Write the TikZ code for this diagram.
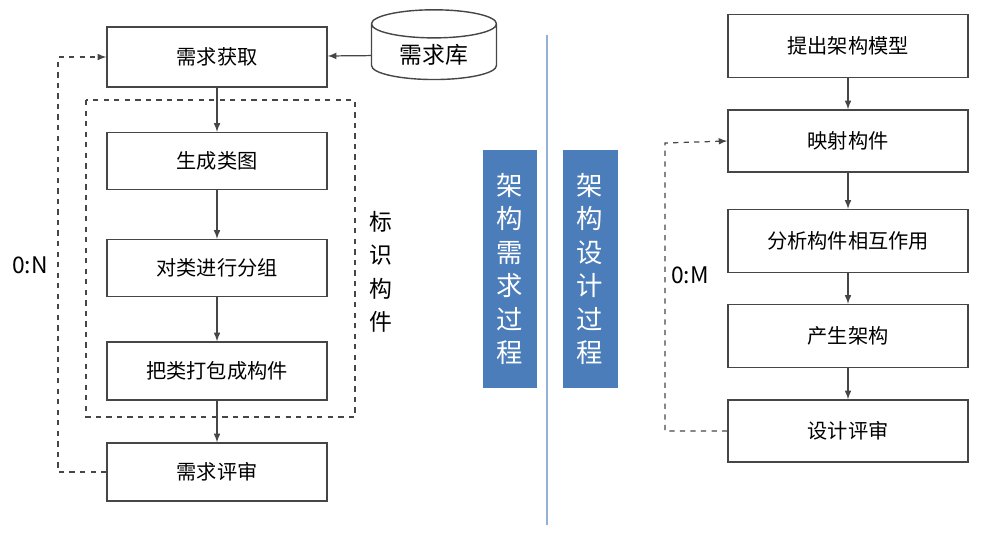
\documentclass[tikz,border=0pt]{standalone}
\usepackage{fontspec}
\setmainfont{Noto Sans CJK SC}
\usetikzlibrary{shapes.geometric}
\definecolor{procblue}{RGB}{74,125,185}
\definecolor{edgegray}{RGB}{70,70,70}
\begin{document}
\begin{tikzpicture}[x=0.02cm,y=-0.02cm,font=\fontsize{11.5}{13}\selectfont]
        \tikzstyle{stepbox}=[draw=edgegray,line width=0.8pt,fill=white,minimum height=1.2cm,inner sep=0pt]
        \tikzstyle{phase}=[fill=procblue,text=white,minimum width=1.1cm,minimum height=4.76cm,align=center,font=\fontsize{15}{19}\selectfont]
        \tikzstyle{flow}=[draw=edgegray,line width=0.7pt,-latex]
        \tikzstyle{loop}=[draw=edgegray,line width=0.7pt,dashed,-latex]
        \useasboundingbox (0,0) rectangle (991,532);
        % left column
        \node [stepbox,minimum width=4.4cm] (get) at (217,57) {需求获取};
        \node [stepbox,minimum width=4.4cm,minimum height=1.14cm] (cls) at (217,161) {生成类图};
        \node [stepbox,minimum width=4.4cm,minimum height=1.14cm] (grp) at (217,268) {对类进行分组};
        \node [stepbox,minimum width=4.4cm,minimum height=1.16cm] (pkg) at (217,371) {把类打包成构件};
        \node [stepbox,minimum width=4.4cm,minimum height=1.16cm] (rev) at (217,472) {需求评审};
        \draw [edgegray,dashed,line width=0.8pt] (86,100) rectangle (355,417);
        \node [cylinder,shape border rotate=90,aspect=0.35,draw=edgegray,line width=0.8pt,fill=white,minimum width=2.5cm,minimum height=1.32cm,font=\fontsize{13}{15}\selectfont] (lib) at (434,55) {需求库};
        \node [align=center,font=\fontsize{13}{19}\selectfont] (mark) at (381,272) {标\\识\\构\\件};
        \node [font=\fontsize{13}{15}\selectfont] (ln) at (30,265) {0:N};
        \draw [flow] (lib) -- (get);
        \draw [flow] (get) -- (cls);
        \draw [flow] (cls) -- (grp);
        \draw [flow] (grp) -- (pkg);
        \draw [flow] (pkg) -- (rev);
        \draw [loop] (rev.west) -| (58,57) -- (get.west);
        % middle
        \draw [procblue!60,line width=0.8pt] (547,35) -- (547,525);
        \node [phase] (req) at (510,269) {架\\构\\需\\求\\过\\程};
        \node [phase] (des) at (590,269) {架\\构\\设\\计\\过\\程};
        % right column
        \node [stepbox,minimum width=4.8cm,minimum height=1.26cm] (prop) at (848,46) {提出架构模型};
        \node [stepbox,minimum width=4.8cm,minimum height=1.24cm] (map) at (848,141) {映射构件};
        \node [stepbox,minimum width=4.8cm,minimum height=1.26cm] (ana) at (848,241) {分析构件相互作用};
        \node [stepbox,minimum width=4.8cm,minimum height=1.26cm] (gen) at (848,336) {产生架构};
        \node [stepbox,minimum width=4.8cm,minimum height=1.24cm] (drev) at (848,431) {设计评审};
        \node [font=\fontsize{13}{15}\selectfont] (rn) at (690,275) {0:M};
        \draw [flow] (prop) -- (map);
        \draw [flow] (map) -- (ana);
        \draw [flow] (ana) -- (gen);
        \draw [flow] (gen) -- (drev);
        \draw [loop] (drev.west) -| (665,143) -- (map.west);
\end{tikzpicture}
\end{document}
